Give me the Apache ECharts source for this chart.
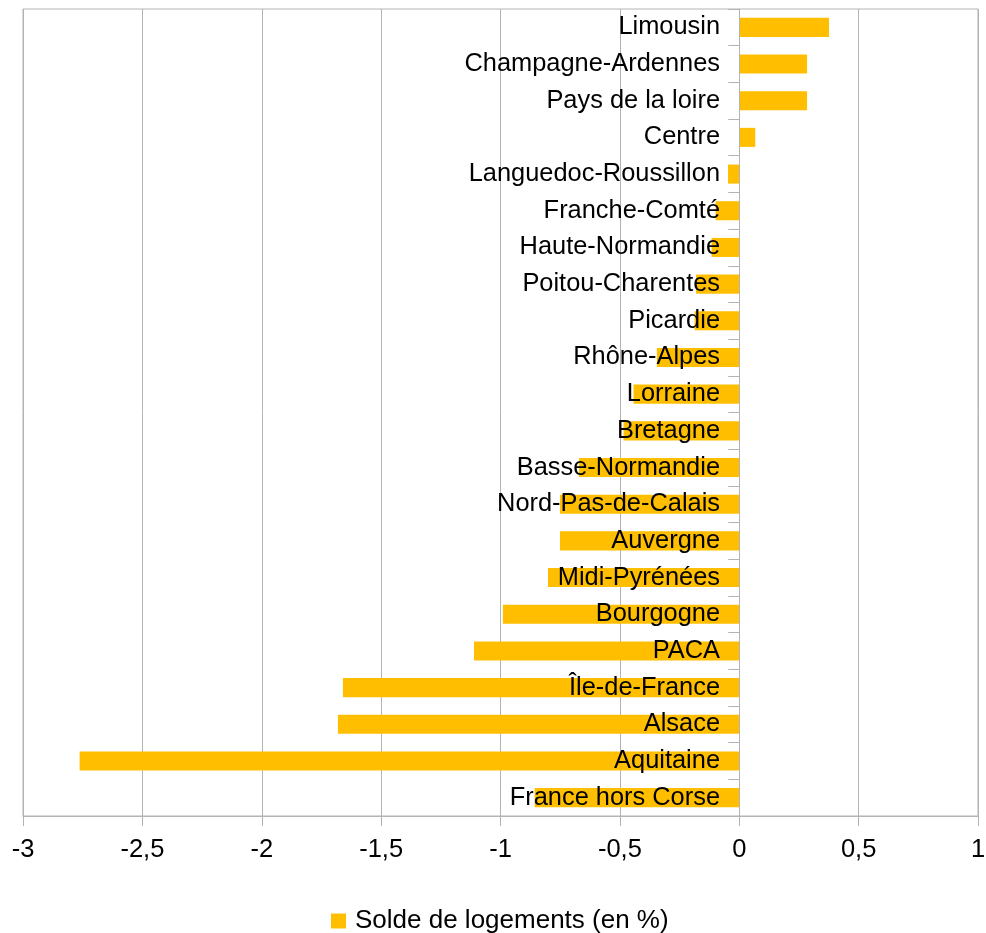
<!DOCTYPE html>
<html><head><meta charset="utf-8">
<script src="https://cdn.jsdelivr.net/npm/echarts@6/dist/echarts.min.js"></script>
<style>html,body{margin:0;padding:0;background:#fff}#c{width:986px;height:933px}</style>
</head><body><div id="c"></div>
<script>
const regions = ["Limousin","Champagne-Ardennes","Pays de la loire","Centre","Languedoc-Roussillon","Franche-Comté","Haute-Normandie","Poitou-Charentes","Picardie","Rhône-Alpes","Lorraine","Bretagne","Basse-Normandie","Nord-Pas-de-Calais","Auvergne","Midi-Pyrénées","Bourgogne","PACA","Île-de-France","Alsace","Aquitaine","France hors Corse"];
const solde = [0.376,0.284,0.284,0.067,-0.047,-0.099,-0.116,-0.181,-0.187,-0.345,-0.443,-0.485,-0.671,-0.751,-0.751,-0.801,-0.99,-1.111,-1.66,-1.681,-2.763,-0.857];
const seriesName = "Solde de logements (en %)";
const xTicks = {min:-3, max:1, interval:0.5};
const chart = echarts.init(document.getElementById('c'));
const font = "'Liberation Sans', Arial, sans-serif";
chart.setOption({
  animation:false,
  textStyle:{fontFamily:font},
  grid:{left:23,right:8,top:9,bottom:117,show:true,borderColor:'#b3b3b3',borderWidth:1,containLabel:false,outerBoundsMode:'none'},
  xAxis:{type:'value',min:xTicks.min,max:xTicks.max,interval:xTicks.interval,
    axisLine:{show:true,onZero:false,lineStyle:{color:'#b3b3b3'}},
    axisTick:{show:true,length:10,lineStyle:{color:'#b3b3b3'}},
    splitLine:{show:true,lineStyle:{color:'#b3b3b3'}},
    axisLabel:{color:'#000',fontSize:25.5,fontFamily:font,margin:21,formatter:v=>String(v).replace('.',',')}},
  yAxis:{type:'category',data:regions,inverse:true,z:10,
    axisLine:{show:true,onZero:true,lineStyle:{color:'#b3b3b3'}},
    axisTick:{show:true,length:11,lineStyle:{color:'#b3b3b3'}},
    splitLine:{show:false},
    axisLabel:{color:'#000',fontSize:25.4,fontFamily:font,margin:-697}},
  legend:{top:903,left:326,icon:'rect',itemWidth:15,itemHeight:15,itemGap:8,
    textStyle:{color:'#000',fontSize:26,fontFamily:font,padding:[0,0,0,4]},data:[seriesName]},
  series:[{name:seriesName,type:'bar',data:solde,barCategoryGap:'48%',itemStyle:{color:'#ffbf00'}}]
});
</script></body></html>
